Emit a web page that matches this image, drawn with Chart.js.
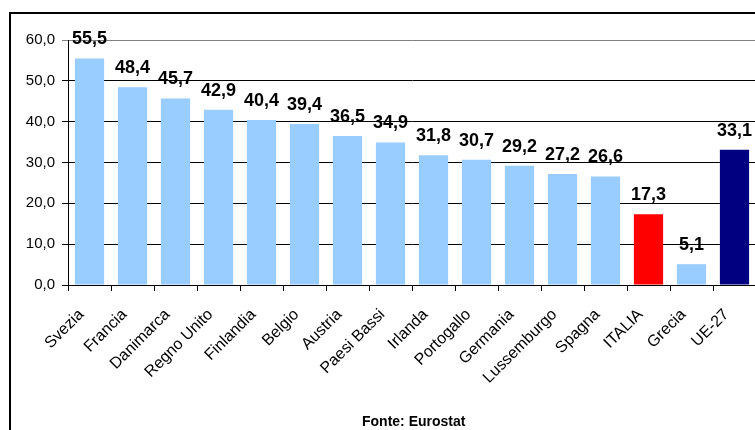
<!DOCTYPE html>
<html>
<head>
    <title>Fonte: Eurostat</title>
    <script src="https://cdn.jsdelivr.net/npm/chart.js"></script>
    <style>
        body {
            margin: 0;
            width: 755px;
            height: 430px;
            overflow: hidden;
            background: white;
            font-family: "Liberation Sans", Arial, sans-serif;
            position: relative;
        }
        .frame {
            position: absolute;
            left: 9px;
            top: 12px;
            width: 820px;
            height: 460px;
            border: 2px solid black;
        }
        .wrap {
            position: absolute;
            left: 0;
            top: 0;
            width: 780px;
            height: 440px;
        }
        #source {
            position: absolute;
            left: 362px;
            top: 413px;
            font-weight: bold;
            font-size: 14px;
            color: black;
        }
    </style>
</head>
<body>
    <div class="frame"></div>
    <div class="wrap"><canvas id="chart" width="780" height="440"></canvas></div>
    <div id="source">Fonte: Eurostat</div>

    <script>
        const categories = ["Svezia", "Francia", "Danimarca", "Regno Unito", "Finlandia", "Belgio", "Austria",
            "Paesi Bassi", "Irlanda", "Portogallo", "Germania", "Lussemburgo", "Spagna", "ITALIA", "Grecia", "UE-27"];
        const values = [55.5, 48.4, 45.7, 42.9, 40.4, 39.4, 36.5, 34.9, 31.8, 30.7, 29.2, 27.2, 26.6, 17.3, 5.1, 33.1];
        const yTicks = [0, 10, 20, 30, 40, 50, 60];

        // ITALIA red, UE-27 navy, others light blue
        const barColors = categories.map(c => c === "ITALIA" ? "#FF0000" : (c === "UE-27" ? "#000080" : "#99CCFF"));

        const fmt = v => v.toFixed(1).replace(".", ",");
        const font = "'Liberation Sans', Arial, sans-serif";

        // value labels above bars + rotated category labels
        const labelsPlugin = {
            id: "labelsPlugin",
            afterDatasetsDraw(chart) {
                const ctx = chart.ctx;
                const meta = chart.getDatasetMeta(0);
                ctx.save();
                ctx.font = "bold 18px " + font;
                ctx.fillStyle = "black";
                ctx.textAlign = "center";
                ctx.textBaseline = "alphabetic";
                meta.data.forEach((bar, i) => {
                    ctx.fillText(fmt(values[i]), bar.x, bar.y - 14);
                });

                const xs = chart.scales.x;
                ctx.font = "16px " + font;
                ctx.textAlign = "right";
                ctx.textBaseline = "middle";
                categories.forEach((c, i) => {
                    const px = xs.getPixelForValue(i);
                    ctx.save();
                    ctx.translate(px - 8, xs.top + 27);
                    ctx.rotate(-Math.PI / 4);
                    ctx.fillText(c, 0, 0);
                    ctx.restore();
                });
                ctx.restore();
            }
        };

        new Chart(document.getElementById("chart"), {
            type: "bar",
            data: {
                labels: categories,
                datasets: [{
                    data: values,
                    backgroundColor: barColors,
                    barPercentage: 0.68,
                    categoryPercentage: 1
                }]
            },
            options: {
                responsive: false,
                animation: false,
                layout: { padding: { left: 0, right: 24, top: 40, bottom: 0 } },
                plugins: {
                    legend: { display: false },
                    tooltip: { enabled: false }
                },
                scales: {
                    x: {
                        grid: {
                            offset: true,
                            drawOnChartArea: false,
                            drawTicks: true,
                            tickLength: 6,
                            color: "black"
                        },
                        border: { color: "black", width: 1 },
                        ticks: { display: false, autoSkip: false },
                        afterFit(axis) { axis.height = 155; }
                    },
                    y: {
                        min: 0,
                        max: 60,
                        afterBuildTicks(axis) { axis.ticks = yTicks.map(v => ({ value: v })); },
                        grid: {
                            color: ctx => ctx.tick && ctx.tick.value === 60 ? "#808080" : "black",
                            tickLength: 6,
                            drawTicks: true
                        },
                        border: { color: "black", width: 1 },
                        ticks: {
                            color: "black",
                            font: { family: font, size: 15 },
                            padding: 7,
                            callback: v => fmt(v)
                        },
                        afterFit(axis) { axis.width = 68; }
                    }
                }
            },
            plugins: [labelsPlugin]
        });
    </script>
</body>
</html>
